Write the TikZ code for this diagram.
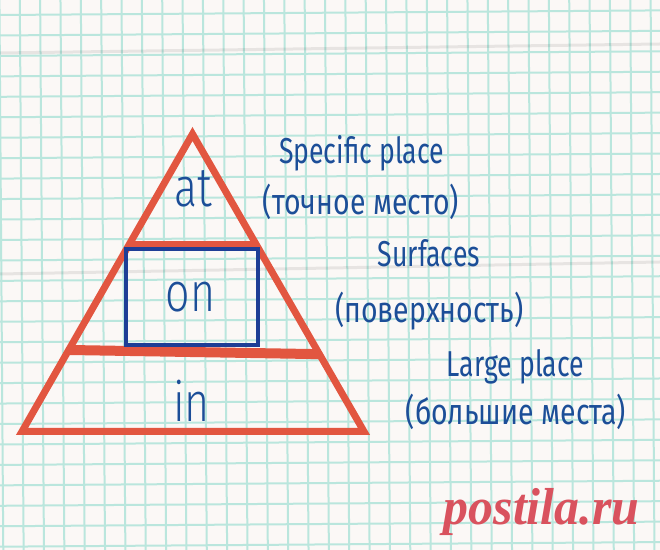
\documentclass[tikz,border=0pt]{standalone}
\usepackage{fontspec}
\usepackage{tikz}
\usetikzlibrary{calc}
\setmainfont{Fira Sans}[FakeStretch=0.74]
\newfontfamily\rufont{Fira Sans}[FakeStretch=0.79]
\newfontfamily\prepfont{Fira Sans Light}[FakeStretch=0.78]
\newfontfamily\markfont{Liberation Serif}[FakeStretch=0.96]
\definecolor{pyred}{RGB}{226,86,64}
\definecolor{boxblue}{RGB}{30,62,150}
\definecolor{inkblue}{RGB}{28,78,152}
\definecolor{gridmint}{RGB}{186,230,221}
\definecolor{paper}{RGB}{251,248,246}
\definecolor{markred}{RGB}{217,82,94}
\tikzset{
  gridline/.style={gridmint,line width=1pt},
  crease/.style={black,opacity=0.08,line width=1.5pt},
  prep/.style={inkblue,inner sep=0pt,anchor=base,font=\prepfont\fontsize{27.5}{28}\selectfont},
  note/.style={inkblue,inner sep=0pt,anchor=base,font=\fontsize{18}{20}\selectfont},
  noteru/.style={note,font=\rufont\fontsize{18}{20}\selectfont},
}

\begin{document}
\begin{tikzpicture}[x=0.5pt,y=-0.5pt]
   % paper
   \useasboundingbox (0,0) rectangle (660,550);
   \begin{scope}
     \clip (0,0) rectangle (660,550);
     \fill[paper] (0,0) rectangle (660,550);
     \begin{scope}[rotate around={0.4:(330,275)}]
       \foreach \i in {-2,...,34}
         \draw[gridline] ({21.7+20.35*\i},-40) -- ({21.7+20.35*\i},590);
       \foreach \j in {-2,...,29}
         \draw[gridline] (-40,{12.7+20.45*\j}) -- (700,{12.7+20.45*\j});
     \end{scope}
     \draw[crease] (0,53) -- (660,44);
     \draw[crease] (0,274) -- (660,262);
   \end{scope}
   % pyramid
   \coordinate (apex) at (192.5,134);
   \coordinate (bl) at (22,431.5);
   \coordinate (br) at (364,431.5);
   \draw[pyred,line width=3.5pt] (apex) -- (bl) -- (br) -- cycle;
   \draw[pyred,line width=3.5pt] ($(apex)!0.371!(bl)$) -- ($(apex)!0.371!(br)$);
   \draw[pyred,line width=5pt] ($(apex)!0.726!(bl)$) -- ($(apex)!0.74!(br)$);
   \draw[boxblue,line width=2pt] (126,249.5) rectangle (258,345);
   \node[prep] (at) at (193,207) {at};
   \node[prep] (on) at (190.5,312) {on};
   \node[prep] (in) at (191.5,422) {in};
   % notes
   \node[note] (specific) at (361.5,163.5) {Specific place};
   \node[noteru] (specificru) at (361,215) {(точное место)};
   \node[note] (surf) at (429,267) {Surfaces};
   \node[noteru] (surfru) at (429.5,323) {(поверхность)};
   \node[note] (large) at (515.5,376.5) {Large place};
   \node[noteru] (largeru) at (516,425) {(большие места)};
   % watermark
   \node[markred,inner sep=0pt,anchor=base,font=\markfont\bfseries\itshape\fontsize{26}{27}\selectfont] (mark) at (541.5,525) {postila.ru};
\end{tikzpicture}
\end{document}
